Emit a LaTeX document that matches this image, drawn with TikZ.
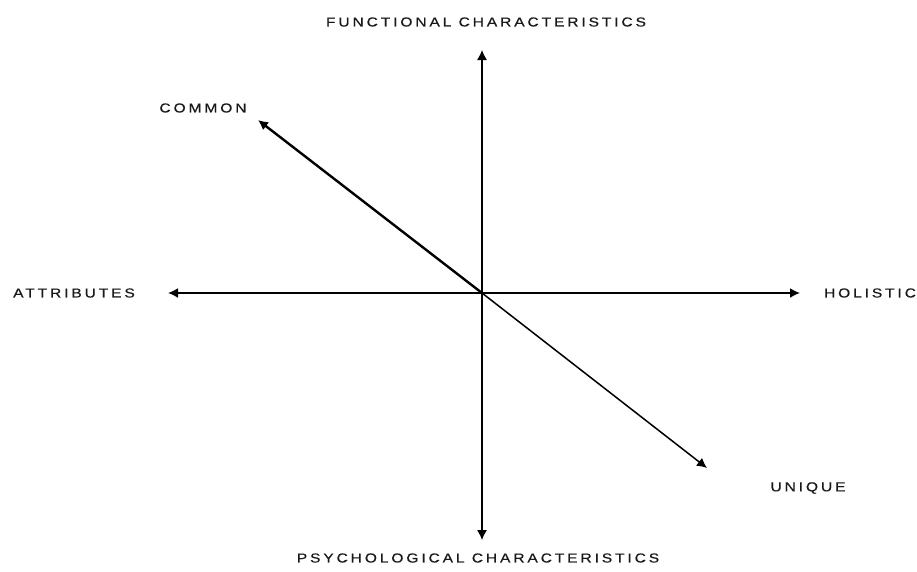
\documentclass[tikz,border=0pt]{standalone}
\usepackage{fontspec}
\setmainfont{Liberation Sans}[LetterSpace=22,FakeStretch=1.2,FakeBold=0.4]
\usetikzlibrary{arrows.meta}
\begin{document}
\begin{tikzpicture}[x=1pt,y=-1pt,
  lbl/.style={font=\fontsize{13}{15}\selectfont, inner sep=0pt, text=black!90},
  ax/.style={-{Latex[length=10pt,width=10pt]}, black}]
\useasboundingbox[fill=white] (0,0) rectangle (917,571);
\coordinate (o) at (482,293);
\coordinate (t) at (482,50);
\coordinate (b) at (482,540);
\coordinate (l) at (168,293);
\coordinate (r) at (800,293);
\coordinate (c) at (258,120);
\coordinate (u) at (707,468);
\draw[ax, line width=1.2pt] (o) -- (t);
\draw[ax, line width=1.2pt] (o) -- (b);
\draw[ax, line width=1.8pt] (o) -- (l);
\draw[ax, line width=1.8pt] (o) -- (r);
\draw[ax, line width=2.4pt] (o) -- (c);
\draw[ax, line width=1.5pt] (o) -- (u);
\node[lbl] (nf) at (486,22) {FUNCTIONAL CHARACTERISTICS};
\node[lbl] (np) at (478,558) {PSYCHOLOGICAL CHARACTERISTICS};
\node[lbl] (nc) at (203,108) {COMMON};
\node[lbl] (na) at (74,293) {ATTRIBUTES};
\node[lbl] (nh) at (870,293) {HOLISTIC};
\node[lbl] (nu) at (808,488) {UNIQUE};
\end{tikzpicture}
\end{document}
